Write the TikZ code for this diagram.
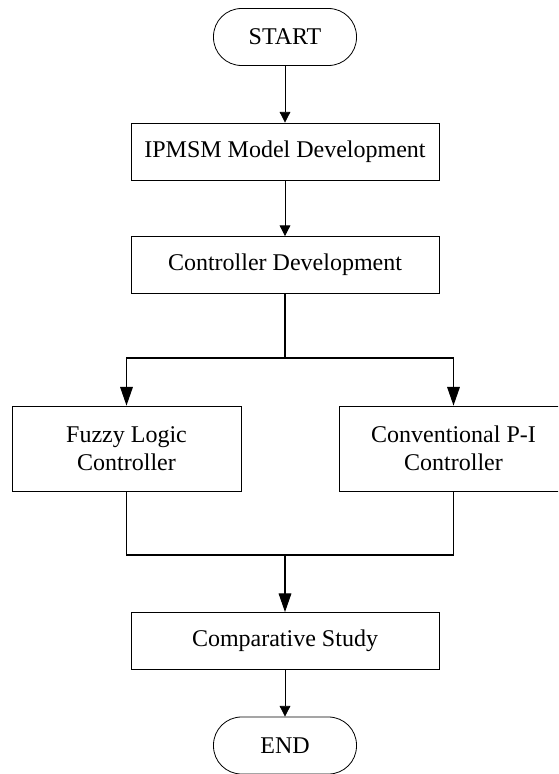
\documentclass[tikz,border=0pt]{standalone}
\usepackage{fontspec}
\setmainfont{Liberation Serif}
\usetikzlibrary{arrows.meta}
\begin{document}
\begin{tikzpicture}[x=0.75pt,y=-0.75pt,
  every node/.style={font=\fontsize{18}{21}\selectfont, inner sep=0pt, align=center},
  termbox/.style={draw, line width=0.6pt, minimum width=143*0.75pt, minimum height=57*0.75pt, rounded corners=21pt},
  procbox/.style={draw, line width=0.6pt, minimum width=308*0.75pt, minimum height=57*0.75pt},
  sidebox/.style={draw, line width=0.6pt, minimum width=229*0.75pt, minimum height=85*0.75pt},
  arr/.style={line width=0.6pt, -{Triangle[length=8pt,width=8pt]}},
  barr/.style={line width=0.8pt, -{Triangle[length=14pt,width=9.5pt]}},
  bline/.style={line width=0.8pt}]
\useasboundingbox (0,0) rectangle (558,774);
\clip (0,0) rectangle (558,774);
\node[termbox] (start) at (285,37) {START};
\node[procbox] (ipmsm) at (285,151.5) {IPMSM Model Development};
\node[procbox] (ctrl) at (285,265) {Controller Development};
\node[sidebox] (fuzzy) at (126.5,448.5) {Fuzzy Logic\\Controller};
\node[sidebox] (conv) at (453.5,448.5) {Conventional P-I\\Controller};
\node[procbox] (comp) at (285,641) {Comparative Study};
\node[termbox] (end) at (285,745.5) {END};
\coordinate (split) at (285,358);
\coordinate (merge) at (285,555);
\draw[arr] (start) -- (ipmsm);
\draw[arr] (ipmsm) -- (ctrl);
\draw[bline] (ctrl) -- (split);
\draw[barr] (split) -| (fuzzy.north);
\draw[barr] (split) -| (conv.north);
\draw[bline] (fuzzy.south) |- (merge);
\draw[bline] (conv.south) |- (merge);
\draw[barr] (merge) -- (comp);
\draw[arr] (comp) -- (end);
\end{tikzpicture}
\end{document}
